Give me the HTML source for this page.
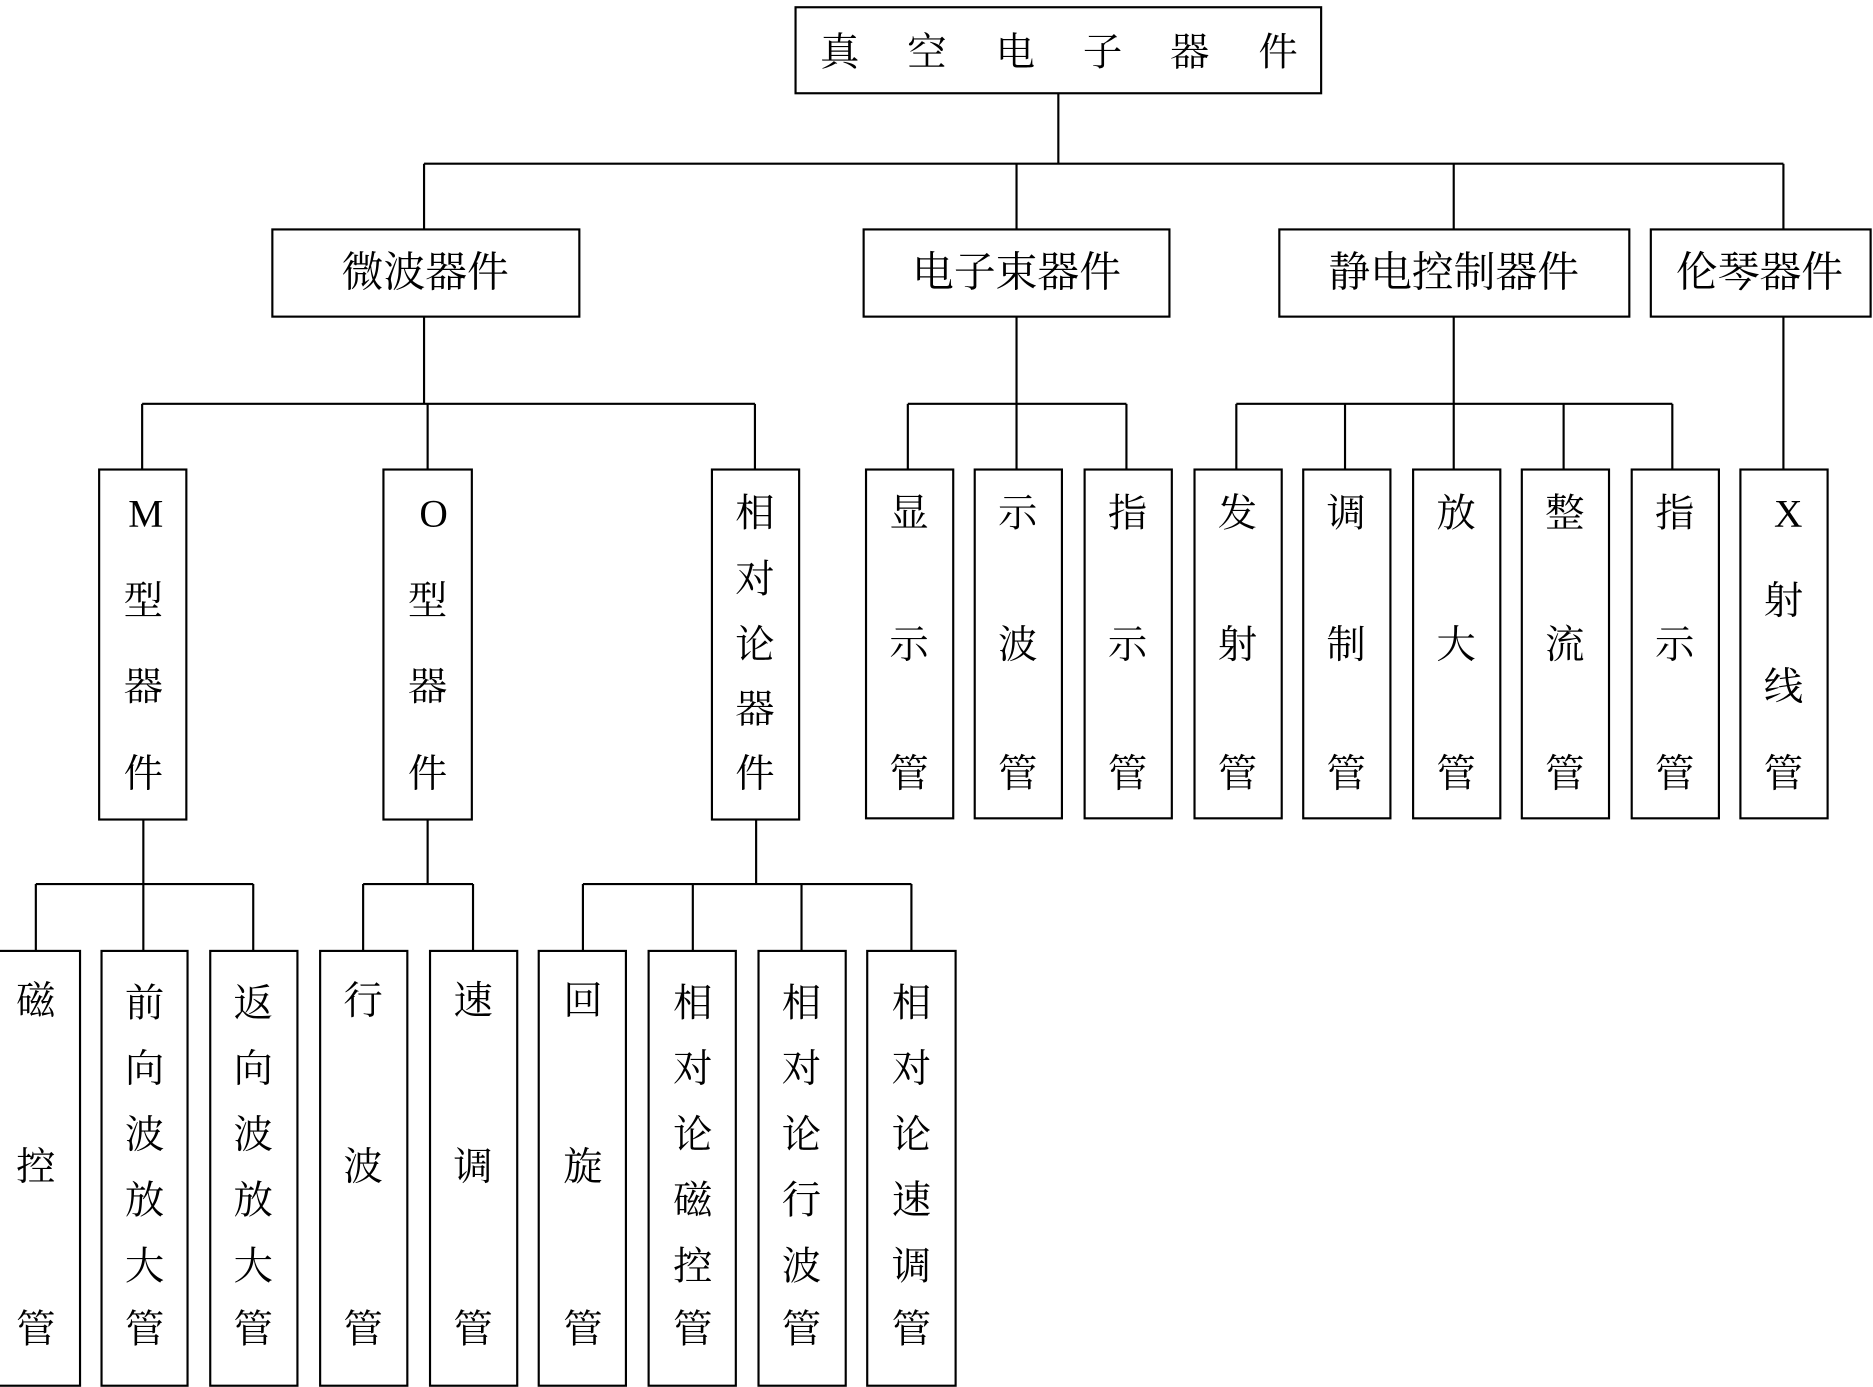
<!DOCTYPE html>
<html><head><meta charset="utf-8"><style>
html,body{margin:0;padding:0;background:#fff;}
svg{display:block;}
text{font-family:"Liberation Serif","Noto Serif CJK SC","Noto Sans CJK SC",serif;font-size:33px;fill:#000;text-anchor:middle;dominant-baseline:central;}
text.l2{font-size:35px;}
</style></head><body>
<svg width="1873" height="1387" viewBox="0 0 1568 1161" xmlns="http://www.w3.org/2000/svg">
<g fill="none" stroke="#000" stroke-width="1.8">
<rect x="666" y="6" width="440" height="72"/>
<rect x="228" y="192" width="257" height="73"/>
<rect x="723" y="192" width="256" height="73"/>
<rect x="1071" y="192" width="293" height="73"/>
<rect x="1382" y="192" width="184" height="73"/>
<rect x="83" y="393" width="73" height="293"/>
<rect x="321" y="393" width="74" height="293"/>
<rect x="596" y="393" width="73" height="293"/>
<rect x="725" y="393" width="73" height="292"/>
<rect x="816" y="393" width="73" height="292"/>
<rect x="908" y="393" width="73" height="292"/>
<rect x="1000" y="393" width="73" height="292"/>
<rect x="1091" y="393" width="73" height="292"/>
<rect x="1183" y="393" width="73" height="292"/>
<rect x="1274" y="393" width="73" height="292"/>
<rect x="1366" y="393" width="73" height="292"/>
<rect x="1457" y="393" width="73" height="292"/>
<rect x="-2" y="796" width="69" height="364"/>
<rect x="85" y="796" width="72" height="364"/>
<rect x="176" y="796" width="73" height="364"/>
<rect x="268" y="796" width="73" height="364"/>
<rect x="360" y="796" width="73" height="364"/>
<rect x="451" y="796" width="73" height="364"/>
<rect x="543" y="796" width="73" height="364"/>
<rect x="635" y="796" width="73" height="364"/>
<rect x="726" y="796" width="74" height="364"/>
<path d="M886 78V137M355 137H1493M355 137V192M851 137V192M1217 137V192M1493 137V192"/>
<path d="M355 265V338M119 338H632M119 338V393M358 338V393M632 338V393"/>
<path d="M851 265V338M760 338H943M760 338V393M851 338V393M943 338V393"/>
<path d="M1217 265V338M1035 338H1400M1035 338V393M1126 338V393M1217 338V393M1309 338V393M1400 338V393"/>
<path d="M1493 265V393"/>
<path d="M120 686V740M30 740H212M30 740V796M120 740V796M212 740V796"/>
<path d="M358 686V740M304 740H396M304 740V796M396 740V796"/>
<path d="M633 686V740M488 740H763M488 740V796M580 740V796M671 740V796M763 740V796"/>
</g>
<g>
<text x="703" y="44">真</text><text x="776" y="44">空</text><text x="850" y="44">电</text><text x="923" y="44">子</text><text x="996" y="44">器</text><text x="1070" y="44">件</text>
<text class="l2" x="356" y="229">微波器件</text>
<text class="l2" x="851" y="229">电子束器件</text>
<text class="l2" x="1217" y="229">静电控制器件</text>
<text class="l2" x="1473" y="229">伦琴器件</text>

<text x="122" y="430">M</text><text x="120" y="503">型</text><text x="120" y="575">器</text><text x="120" y="648">件</text>
<text x="363" y="430">O</text><text x="358" y="503">型</text><text x="358" y="575">器</text><text x="358" y="648">件</text>
<text x="632" y="430">相</text><text x="632" y="485">对</text><text x="632" y="540">论</text><text x="632" y="594">器</text><text x="632" y="648">件</text>

<text x="761" y="430">显</text><text x="761" y="540">示</text><text x="761" y="648">管</text>
<text x="852" y="430">示</text><text x="852" y="540">波</text><text x="852" y="648">管</text>
<text x="944" y="430">指</text><text x="944" y="540">示</text><text x="944" y="648">管</text>
<text x="1036" y="430">发</text><text x="1036" y="540">射</text><text x="1036" y="648">管</text>
<text x="1127" y="430">调</text><text x="1127" y="540">制</text><text x="1127" y="648">管</text>
<text x="1219" y="430">放</text><text x="1219" y="540">大</text><text x="1219" y="648">管</text>
<text x="1310" y="430">整</text><text x="1310" y="540">流</text><text x="1310" y="648">管</text>
<text x="1402" y="430">指</text><text x="1402" y="540">示</text><text x="1402" y="648">管</text>
<text x="1497" y="430">X</text><text x="1493" y="503">射</text><text x="1493" y="575">线</text><text x="1493" y="648">管</text>

<text x="30" y="838">磁</text><text x="30" y="977">控</text><text x="30" y="1113">管</text>
<text x="121" y="840">前</text><text x="121" y="895">向</text><text x="121" y="950">波</text><text x="121" y="1005">放</text><text x="121" y="1060">大</text><text x="121" y="1113">管</text>
<text x="212" y="840">返</text><text x="212" y="895">向</text><text x="212" y="950">波</text><text x="212" y="1005">放</text><text x="212" y="1060">大</text><text x="212" y="1113">管</text>
<text x="304" y="838">行</text><text x="304" y="977">波</text><text x="304" y="1113">管</text>
<text x="396" y="838">速</text><text x="396" y="977">调</text><text x="396" y="1113">管</text>
<text x="488" y="838">回</text><text x="488" y="977">旋</text><text x="488" y="1113">管</text>
<text x="580" y="840">相</text><text x="580" y="895">对</text><text x="580" y="950">论</text><text x="580" y="1005">磁</text><text x="580" y="1060">控</text><text x="580" y="1113">管</text>
<text x="671" y="840">相</text><text x="671" y="895">对</text><text x="671" y="950">论</text><text x="671" y="1005">行</text><text x="671" y="1060">波</text><text x="671" y="1113">管</text>
<text x="763" y="840">相</text><text x="763" y="895">对</text><text x="763" y="950">论</text><text x="763" y="1005">速</text><text x="763" y="1060">调</text><text x="763" y="1113">管</text>
</g>
</svg>
</body></html>
